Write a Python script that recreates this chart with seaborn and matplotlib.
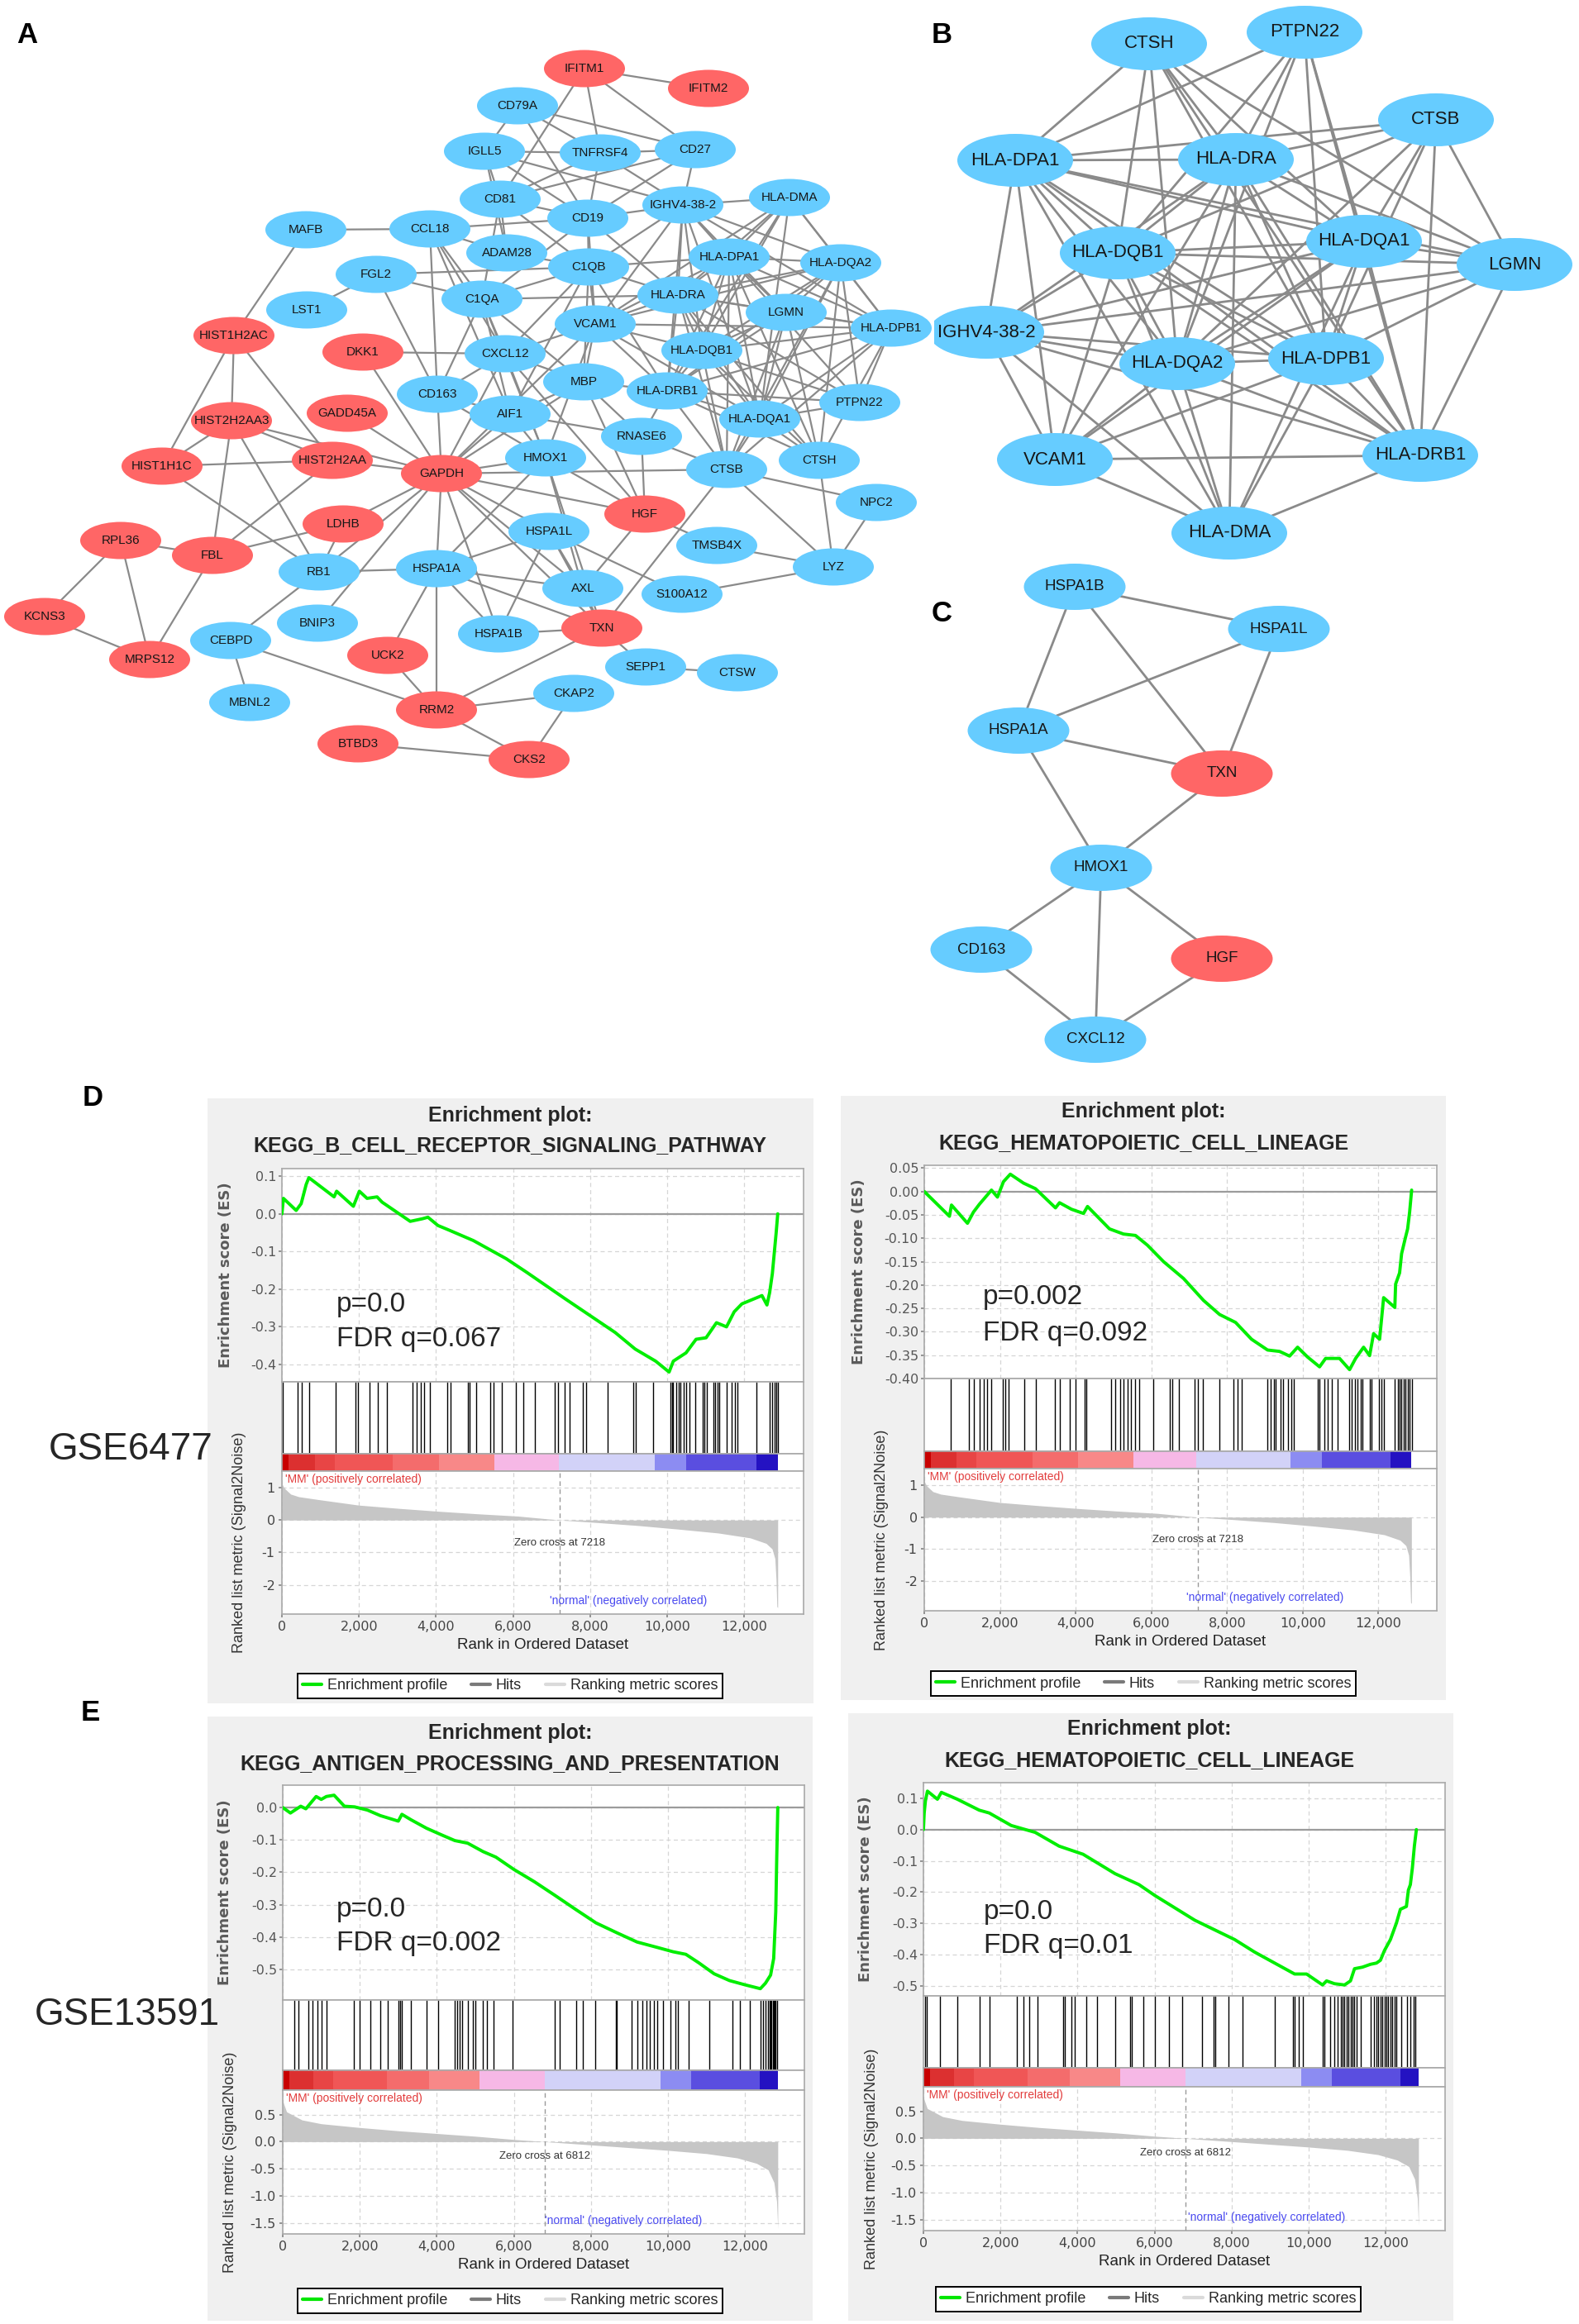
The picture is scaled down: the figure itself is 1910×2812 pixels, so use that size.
import numpy as np
import pandas as pd
import matplotlib
matplotlib.use("Agg")
import matplotlib.pyplot as plt
import seaborn as sns
from matplotlib.patches import Ellipse, Rectangle
from matplotlib.lines import Line2D
from matplotlib.collections import LineCollection
from matplotlib.ticker import FuncFormatter

# ============================ DATA ============================
RED_GENES = ["IFITM1", "IFITM2", "HIST1H2AC", "DKK1", "GADD45A", "HIST2H2AA3", "HIST2H2AA",
             "HIST1H1C", "GAPDH", "HGF", "LDHB", "RPL36", "FBL", "KCNS3", "TXN", "MRPS12",
             "UCK2", "RRM2", "BTBD3", "CKS2"]

# Panel A layout (network node positions)
A_genes = ["IFITM1", "IFITM2", "CD79A", "IGLL5", "TNFRSF4", "CD27", "CD81", "IGHV4-38-2", "HLA-DMA",
           "MAFB", "CCL18", "CD19", "ADAM28", "C1QB", "HLA-DPA1", "HLA-DQA2", "FGL2", "C1QA",
           "HLA-DRA", "LGMN", "LST1", "VCAM1", "HLA-DPB1", "HIST1H2AC", "CXCL12", "DKK1", "HLA-DQB1",
           "CD163", "MBP", "HLA-DRB1", "PTPN22", "GADD45A", "AIF1", "HLA-DQA1", "HIST2H2AA3", "RNASE6",
           "HIST2H2AA", "HIST1H1C", "GAPDH", "HMOX1", "CTSB", "CTSH", "NPC2", "HGF", "LDHB", "RPL36",
           "FBL", "HSPA1L", "TMSB4X", "RB1", "HSPA1A", "LYZ", "AXL", "S100A12", "KCNS3", "BNIP3",
           "TXN", "HSPA1B", "CEBPD", "MRPS12", "UCK2", "SEPP1", "CTSW", "MBNL2", "CKAP2", "RRM2",
           "BTBD3", "CKS2"]
A_x = [707, 857, 626, 586, 726, 841, 605, 826, 955,
       370, 520, 711, 613, 712, 882, 1017, 455, 583,
       820, 951, 371, 720, 1078, 283, 611, 439, 849,
       529, 706, 807, 1040, 420, 617, 919, 280, 776,
       402, 196, 534, 660, 879, 991, 1060, 780, 415, 146,
       257, 664, 867, 386, 528, 1008, 705, 825, 54, 384,
       728, 603, 279, 181, 469, 781, 892, 302, 694, 528,
       433, 640]
A_y = [83, 107, 128, 183, 185, 181, 241, 248, 239,
       278, 277, 264, 306, 323, 311, 318, 332, 362,
       357, 378, 375, 392, 397, 406, 428, 426, 424,
       477, 462, 473, 487, 500, 501, 507, 509, 528,
       557, 564, 573, 554, 568, 557, 608, 622, 634, 654,
       672, 643, 660, 692, 688, 686, 712, 719, 746, 754,
       760, 767, 775, 798, 793, 807, 814, 850, 839, 859,
       900, 919]

# Panel B layout
B_genes = ["CTSH", "PTPN22", "CTSB", "HLA-DPA1", "HLA-DRA", "HLA-DQA1", "LGMN", "HLA-DQB1",
           "IGHV4-38-2", "HLA-DQA2", "HLA-DPB1", "VCAM1", "HLA-DRB1", "HLA-DMA"]
B_x = [1390, 1578, 1737, 1228, 1495, 1650, 1832, 1352, 1193, 1424, 1604, 1276, 1718, 1487]
B_y = [53, 39, 145, 194, 193, 292, 320, 306, 402, 440, 434, 556, 551, 645]

# Panel C layout
C_genes = ["HSPA1B", "HSPA1L", "HSPA1A", "TXN", "HMOX1", "CD163", "HGF", "CXCL12"]
C_x = [1300, 1547, 1232, 1478, 1332, 1187, 1478, 1325]
C_y = [710, 761, 884, 936, 1050, 1149, 1160, 1258]

# Interaction edges (one network; B and C are its sub-networks)
B_EDGES = [
    ("CTSH", "HLA-DPA1"), ("CTSH", "HLA-DRA"), ("CTSH", "HLA-DQB1"), ("CTSH", "HLA-DQA2"),
    ("CTSH", "HLA-DQA1"), ("CTSH", "HLA-DPB1"), ("CTSH", "HLA-DRB1"), ("CTSH", "LGMN"),
    ("PTPN22", "HLA-DPA1"), ("PTPN22", "HLA-DRA"), ("PTPN22", "HLA-DQB1"), ("PTPN22", "HLA-DQA2"),
    ("PTPN22", "HLA-DQA1"), ("PTPN22", "HLA-DPB1"), ("PTPN22", "HLA-DRB1"),
    ("CTSB", "HLA-DPA1"), ("CTSB", "HLA-DRA"), ("CTSB", "HLA-DQB1"), ("CTSB", "HLA-DQA2"),
    ("CTSB", "HLA-DQA1"), ("CTSB", "HLA-DPB1"), ("CTSB", "HLA-DRB1"), ("CTSB", "LGMN"),
    ("HLA-DPA1", "HLA-DRA"), ("HLA-DPA1", "HLA-DQB1"), ("HLA-DPA1", "HLA-DQA1"), ("HLA-DPA1", "LGMN"),
    ("HLA-DPA1", "HLA-DPB1"), ("HLA-DPA1", "HLA-DQA2"), ("HLA-DPA1", "HLA-DRB1"), ("HLA-DPA1", "HLA-DMA"),
    ("HLA-DPA1", "IGHV4-38-2"), ("HLA-DPA1", "VCAM1"),
    ("HLA-DRA", "HLA-DQB1"), ("HLA-DRA", "HLA-DQA1"), ("HLA-DRA", "LGMN"), ("HLA-DRA", "HLA-DQA2"),
    ("HLA-DRA", "HLA-DPB1"), ("HLA-DRA", "HLA-DRB1"), ("HLA-DRA", "HLA-DMA"), ("HLA-DRA", "VCAM1"),
    ("HLA-DRA", "IGHV4-38-2"),
    ("HLA-DQB1", "HLA-DQA1"), ("HLA-DQB1", "LGMN"), ("HLA-DQB1", "IGHV4-38-2"), ("HLA-DQB1", "HLA-DQA2"),
    ("HLA-DQB1", "HLA-DPB1"), ("HLA-DQB1", "HLA-DRB1"), ("HLA-DQB1", "HLA-DMA"), ("HLA-DQB1", "VCAM1"),
    ("HLA-DQA1", "LGMN"), ("HLA-DQA1", "HLA-DQA2"), ("HLA-DQA1", "HLA-DPB1"), ("HLA-DQA1", "HLA-DRB1"),
    ("HLA-DQA1", "HLA-DMA"), ("HLA-DQA1", "VCAM1"), ("HLA-DQA1", "IGHV4-38-2"),
    ("LGMN", "HLA-DPB1"), ("LGMN", "HLA-DRB1"), ("LGMN", "HLA-DQA2"), ("LGMN", "IGHV4-38-2"),
    ("IGHV4-38-2", "HLA-DQA2"), ("IGHV4-38-2", "HLA-DPB1"), ("IGHV4-38-2", "HLA-DRB1"),
    ("IGHV4-38-2", "HLA-DMA"), ("IGHV4-38-2", "VCAM1"),
    ("HLA-DQA2", "HLA-DPB1"), ("HLA-DQA2", "HLA-DRB1"), ("HLA-DQA2", "HLA-DMA"), ("HLA-DQA2", "VCAM1"),
    ("HLA-DPB1", "HLA-DRB1"), ("HLA-DPB1", "HLA-DMA"), ("HLA-DPB1", "VCAM1"),
    ("VCAM1", "HLA-DRB1"), ("VCAM1", "HLA-DMA"), ("HLA-DRB1", "HLA-DMA"),
]
C_EDGES = [
    ("HSPA1B", "HSPA1L"), ("HSPA1B", "HSPA1A"), ("HSPA1B", "TXN"), ("HSPA1L", "HSPA1A"),
    ("HSPA1L", "TXN"), ("HSPA1A", "TXN"), ("HSPA1A", "HMOX1"), ("TXN", "HMOX1"),
    ("HMOX1", "CD163"), ("HMOX1", "CXCL12"), ("HMOX1", "HGF"), ("CD163", "CXCL12"), ("HGF", "CXCL12"),
]
OTHER_EDGES = [
    ("IFITM1", "IFITM2"), ("IFITM1", "TNFRSF4"), ("IFITM1", "CD27"), ("IFITM1", "CD81"),
    ("CD79A", "IGLL5"), ("CD79A", "TNFRSF4"), ("CD79A", "CD27"), ("CD79A", "CD19"),
    ("IGLL5", "TNFRSF4"), ("IGLL5", "CD81"), ("IGLL5", "CD19"), ("IGLL5", "IGHV4-38-2"), ("IGLL5", "ADAM28"),
    ("TNFRSF4", "CD27"), ("TNFRSF4", "CD19"), ("TNFRSF4", "IGHV4-38-2"), ("TNFRSF4", "CD81"),
    ("CD27", "IGHV4-38-2"), ("CD27", "CD19"), ("CD27", "CD81"),
    ("CD81", "CD19"), ("CD81", "ADAM28"), ("CD81", "C1QB"), ("CD81", "C1QA"),
    ("CD19", "IGHV4-38-2"), ("CD19", "C1QB"), ("CD19", "C1QA"), ("CD19", "HLA-DRA"), ("CD19", "CCL18"),
    ("CD19", "VCAM1"), ("IGHV4-38-2", "C1QB"),
    ("C1QB", "HLA-DPA1"), ("C1QB", "C1QA"), ("C1QB", "CXCL12"), ("C1QB", "MBP"), ("C1QB", "HLA-DRB1"),
    ("C1QB", "VCAM1"), ("C1QB", "ADAM28"), ("C1QB", "HLA-DRA"), ("C1QB", "AIF1"), ("C1QB", "FGL2"),
    ("C1QA", "HLA-DRA"), ("C1QA", "CXCL12"), ("C1QA", "CD163"), ("C1QA", "AIF1"), ("C1QA", "CCL18"),
    ("C1QA", "FGL2"), ("C1QA", "MBP"), ("C1QA", "HMOX1"),
    ("ADAM28", "CCL18"), ("CCL18", "CD163"), ("CCL18", "CXCL12"), ("CCL18", "AIF1"), ("CCL18", "MAFB"),
    ("MAFB", "HIST1H2AC"), ("FGL2", "LST1"), ("FGL2", "CD163"),
    ("DKK1", "CXCL12"), ("DKK1", "GAPDH"),
    ("CXCL12", "GAPDH"), ("CXCL12", "VCAM1"), ("CXCL12", "MBP"),
    ("CD163", "GAPDH"), ("CD163", "AIF1"),
    ("VCAM1", "GAPDH"), ("VCAM1", "MBP"), ("VCAM1", "HMOX1"),
    ("MBP", "HLA-DRB1"), ("MBP", "GAPDH"), ("MBP", "HGF"), ("MBP", "AIF1"), ("MBP", "RNASE6"),
    ("AIF1", "GAPDH"), ("AIF1", "RNASE6"), ("AIF1", "HMOX1"),
    ("HLA-DRB1", "RNASE6"), ("RNASE6", "CTSB"), ("RNASE6", "HGF"),
    ("HMOX1", "GAPDH"), ("HMOX1", "AXL"),
    ("GAPDH", "HIST2H2AA"), ("GAPDH", "HIST2H2AA3"), ("GAPDH", "GADD45A"), ("GAPDH", "LDHB"),
    ("GAPDH", "RB1"), ("GAPDH", "BNIP3"), ("GAPDH", "HSPA1A"), ("GAPDH", "HSPA1B"), ("GAPDH", "HSPA1L"),
    ("GAPDH", "AXL"), ("GAPDH", "TXN"), ("GAPDH", "HGF"), ("GAPDH", "CTSB"),
    ("LDHB", "FBL"), ("LDHB", "RB1"),
    ("RB1", "HIST1H1C"), ("RB1", "HIST2H2AA3"), ("RB1", "CEBPD"), ("RB1", "HSPA1A"),
    ("HIST1H2AC", "HIST1H1C"), ("HIST1H2AC", "HIST2H2AA3"), ("HIST1H2AC", "HIST2H2AA"),
    ("HIST2H2AA3", "HIST1H1C"), ("HIST2H2AA3", "FBL"), ("HIST2H2AA3", "HIST2H2AA"),
    ("HIST1H1C", "HIST2H2AA"), ("HIST2H2AA", "FBL"),
    ("RPL36", "FBL"), ("RPL36", "KCNS3"), ("RPL36", "MRPS12"), ("KCNS3", "MRPS12"), ("FBL", "MRPS12"),
    ("CEBPD", "MBNL2"), ("CEBPD", "RRM2"), ("UCK2", "RRM2"), ("UCK2", "HSPA1A"),
    ("HSPA1A", "RRM2"), ("HSPA1A", "AXL"), ("HSPA1L", "AXL"), ("HSPA1L", "S100A12"),
    ("AXL", "TXN"), ("AXL", "HGF"), ("TXN", "CTSB"), ("TXN", "SEPP1"), ("TXN", "RRM2"),
    ("SEPP1", "CTSW"), ("RRM2", "CKAP2"), ("RRM2", "CKS2"), ("CKAP2", "CKS2"), ("BTBD3", "CKS2"),
    ("CTSB", "LYZ"), ("CTSB", "NPC2"), ("CTSH", "LYZ"), ("NPC2", "LYZ"), ("TMSB4X", "LYZ"),
    ("S100A12", "LYZ"), ("HGF", "TMSB4X"),
]

# ---- GSEA data ----
D_titles = ["KEGG_B_CELL_RECEPTOR_SIGNALING_PATHWAY", "KEGG_HEMATOPOIETIC_CELL_LINEAGE"]
E_titles = ["KEGG_ANTIGEN_PROCESSING_AND_PRESENTATION", "KEGG_HEMATOPOIETIC_CELL_LINEAGE"]
D_pvals = [("p=0.0", "FDR q=0.067"), ("p=0.002", "FDR q=0.092")]
E_pvals = [("p=0.0", "FDR q=0.002"), ("p=0.0", "FDR q=0.01")]
D_dataset = "GSE6477"
E_dataset = "GSE13591"
D_zero_cross = 7218
E_zero_cross = 6812

D1_rank = [0, 40, 370, 500, 630, 700, 1355, 1420, 1855, 2010, 2210, 2470, 2600, 3330, 3650, 3790, 4050,
           4310, 4970, 5820, 6350, 7330, 8650, 9170, 9700, 10050, 10160, 10490, 10750, 11010, 11280,
           11540, 11740, 11940, 12200, 12460, 12590, 12660, 12730, 12790, 12830, 12870]
D1_es = [0.0, 0.041, 0.009, 0.027, 0.078, 0.096, 0.045, 0.060, 0.020, 0.060, 0.041, 0.045, 0.031, -0.020,
         -0.013, -0.009, -0.031, -0.042, -0.071, -0.119, -0.155, -0.224, -0.315, -0.359, -0.391, -0.420,
         -0.391, -0.369, -0.333, -0.329, -0.289, -0.300, -0.260, -0.239, -0.228, -0.217, -0.242, -0.209,
         -0.159, -0.093, -0.049, 0.0]
D1_hits = [20, 400, 510, 700, 1400, 1910, 1975, 2280, 2480, 2720, 3380, 3500, 3600, 3690, 3850, 4290, 4380,
           4820, 4880, 5040, 5400, 5500, 5710, 6080, 6270, 6560, 7080, 7170, 7340, 7460, 7800, 7890, 8460,
           9120, 9190, 9640, 10080, 10130, 10160, 10230, 10300, 10350, 10420, 10500, 10570, 10730, 10920,
           10970, 11020, 11200, 11250, 11300, 11360, 11540, 11670, 11750, 11820, 12320, 12650, 12730,
           12780, 12830, 12870]

D2_rank = [0, 666, 719, 1142, 1300, 1459, 1776, 1934, 2093, 2273, 2621, 2938, 3467, 3573, 3890, 4207, 4313,
           4894, 5264, 5581, 5898, 6321, 6849, 7378, 7801, 8224, 8646, 9069, 9386, 9651, 9862, 10126,
           10443, 10602, 10971, 11236, 11395, 11606, 11765, 11870, 12029, 12135, 12431, 12452, 12557,
           12610, 12716, 12769, 12822, 12875]
D2_es = [0.0, -0.053, -0.029, -0.068, -0.044, -0.027, 0.003, -0.012, 0.021, 0.037, 0.018, 0.006, -0.035,
         -0.024, -0.038, -0.047, -0.032, -0.080, -0.091, -0.094, -0.115, -0.150, -0.186, -0.233, -0.263,
         -0.280, -0.316, -0.339, -0.342, -0.352, -0.333, -0.354, -0.375, -0.357, -0.357, -0.381, -0.357,
         -0.333, -0.351, -0.304, -0.316, -0.227, -0.248, -0.198, -0.174, -0.133, -0.097, -0.080, -0.044,
         0.003]
D2_hits = [698, 1173, 1300, 1459, 1564, 1670, 1776, 2072, 2146, 2220, 2643, 2938, 3446, 3573, 3837, 3995,
           4228, 4291, 4926, 5052, 5179, 5264, 5370, 5454, 5560, 5687, 6057, 6479, 6553, 6723, 7145, 7219,
           7357, 7801, 8171, 8276, 8382, 9069, 9154, 9228, 9280, 9407, 9471, 9619, 9703, 9756, 10390,
           10443, 10570, 10655, 10760, 10919, 11236, 11289, 11374, 11447, 11521, 11585, 11765, 11817,
           12008, 12082, 12135, 12431, 12504, 12557, 12610, 12665, 12716, 12769, 12822, 12875]

E1_rank = [0, 200, 467, 600, 867, 1000, 1133, 1333, 1600, 1866, 2200, 2533, 3000, 3093, 3333, 3733, 4133,
           4466, 4800, 5200, 5532, 5999, 6532, 7065, 7598, 8131, 8664, 9197, 9731, 10130, 10464, 10797,
           11197, 11597, 11997, 12264, 12397, 12530, 12663, 12743, 12797, 12823, 12850]
E1_es = [0.0, -0.017, 0.004, -0.004, 0.034, 0.025, 0.034, 0.038, 0.004, 0.002, -0.008, -0.025, -0.042,
         -0.021, -0.038, -0.064, -0.085, -0.102, -0.110, -0.136, -0.153, -0.191, -0.229, -0.271, -0.314,
         -0.356, -0.386, -0.415, -0.432, -0.445, -0.453, -0.479, -0.513, -0.534, -0.547, -0.555, -0.559,
         -0.542, -0.517, -0.466, -0.322, -0.153, 0.0]
E1_hits = [307, 400, 667, 773, 893, 1000, 1133, 1840, 2000, 2266, 2533, 2733, 3000, 3040, 3093, 3333, 3732,
           4026, 4466, 4532, 4599, 4666, 4799, 4932, 4999, 5199, 5305, 5465, 5972, 7065, 7198, 7625, 7798,
           8105, 8638, 8665, 9064, 9198, 9331, 9438, 9531, 9624, 9731, 9864, 10064, 10197, 10264, 10531,
           11064, 11664, 11864, 12130, 12397, 12464, 12530, 12597, 12637, 12664, 12690, 12717, 12744,
           12770, 12797, 12824]

E2_rank = [0, 20, 52, 104, 363, 466, 881, 1450, 1709, 2279, 2901, 3522, 4144, 4973, 5594, 6009, 7045, 8081,
           8599, 9117, 9635, 9946, 10360, 10464, 10671, 10930, 11085, 11189, 11396, 11603, 11759, 11862,
           11966, 12121, 12277, 12380, 12536, 12587, 12639, 12691, 12743, 12795]
E2_es = [0.0, 0.053, 0.092, 0.123, 0.097, 0.119, 0.097, 0.062, 0.053, 0.013, -0.009, -0.053, -0.079,
         -0.141, -0.176, -0.211, -0.290, -0.352, -0.392, -0.427, -0.462, -0.462, -0.497, -0.484, -0.493,
         -0.497, -0.484, -0.445, -0.440, -0.431, -0.427, -0.418, -0.387, -0.352, -0.299, -0.255, -0.246,
         -0.194, -0.176, -0.123, -0.053, 0.0]
E2_hits = [52, 83, 435, 881, 1450, 1709, 2435, 2590, 2745, 2953, 3626, 3678, 3833, 3937, 4227, 4507, 4973,
           5366, 5408, 5698, 6009, 6371, 6713, 7231, 7542, 7584, 7925, 8288, 9117, 9583, 9635, 9738, 9842,
           10360, 10412, 10567, 10671, 10754, 10826, 10878, 10930, 10982, 11034, 11085, 11137, 11189,
           11241, 11344, 11603, 11686, 11759, 11810, 11862, 11914, 11966, 12018, 12070, 12121, 12173,
           12225, 12277, 12411, 12556, 12639, 12722, 12763]

D_met_rank = [0, 30, 73, 228, 436, 954, 1991, 3028, 4065, 5102, 6139, 7218, 8213, 9250, 10287, 11324,
              12154, 12569, 12724, 12797, 12828, 12849, 12870]
D_met_val = [1.14, 1.05, 0.97, 0.80, 0.72, 0.63, 0.46, 0.36, 0.27, 0.19, 0.12, 0.0, -0.08, -0.17, -0.28,
             -0.40, -0.55, -0.72, -0.89, -1.19, -1.86, -2.67, -2.70]
E_met_rank = [0, 100, 500, 1000, 2000, 3000, 4000, 5000, 6000, 6812, 8000, 9000, 10000, 11000, 11800,
              12300, 12600, 12750, 12820, 12850]
E_met_val = [0.75, 0.55, 0.40, 0.33, 0.26, 0.20, 0.15, 0.10, 0.04, 0.0, -0.06, -0.11, -0.16, -0.22, -0.30,
             -0.40, -0.52, -0.75, -1.10, -1.60]

D_band_edges = [0, 180, 850, 1370, 2870, 4070, 5520, 7180, 9670, 10500, 12310, 12870]
E_band_edges = [0, 180, 800, 1300, 2700, 3800, 5100, 6812, 9800, 10600, 12380, 12850]
BAND_COLORS = ["#c80000", "#dc3030", "#e84545", "#f05656", "#f46c6c", "#f88888", "#f6b8e6",
               "#d2d2f8", "#8c8cf2", "#5a4ee0", "#2412c2"]

D1_es_ticks = [0.1, 0.0, -0.1, -0.2, -0.3, -0.4]
D2_es_ticks = [0.05, 0.0, -0.05, -0.10, -0.15, -0.20, -0.25, -0.30, -0.35, -0.40]
E1_es_ticks = [0.0, -0.1, -0.2, -0.3, -0.4, -0.5]
E2_es_ticks = [0.1, 0.0, -0.1, -0.2, -0.3, -0.4, -0.5]
D_met_ticks = [1, 0, -1, -2]
E_met_ticks = [0.5, 0.0, -0.5, -1.0, -1.5]

# ============================ STYLE / FIGURE ============================
sns.set_theme(style="white")
plt.rcParams["font.family"] = ["Liberation Sans", "DejaVu Sans"]

W, H = 1910, 2812
fig = plt.figure(figsize=(W / 100, H / 100), dpi=100)
fig.patch.set_facecolor("white")
BLUE = "#66ccff"
RED = "#ff6666"
EDGE_COL = "#8a8a8a"
SPINE = "#a9a9a9"
XMAX = 13540


def px_axes(x0, y0, x1, y1):
    return fig.add_axes([x0 / W, 1 - y1 / H, (x1 - x0) / W, (y1 - y0) / H])


bg = fig.add_axes([0, 0, 1, 1])
bg.set_xlim(0, W)
bg.set_ylim(H, 0)
bg.axis("off")

# ---------------- networks ----------------
all_edges = []
seen = set()
for a, b in B_EDGES + C_EDGES + OTHER_EDGES:
    k = frozenset((a, b))
    if k not in seen:
        seen.add(k)
        all_edges.append((a, b))


def net_axes(x0, y0, x1, y1):
    ax = px_axes(x0, y0, x1, y1)
    ax.set_xlim(x0, x1)
    ax.set_ylim(y1, y0)
    ax.axis("off")
    ax.patch.set_alpha(0)
    return ax


def draw_network(ax, genes, xs, ys, w, h, fs, lw):
    pos = dict(zip(genes, zip(xs, ys)))
    segs = [[pos[a], pos[b]] for a, b in all_edges if a in pos and b in pos]
    ax.add_collection(LineCollection(segs, colors=EDGE_COL, linewidths=lw, zorder=1))
    for g in genes:
        ax.add_patch(Ellipse(pos[g], w, h, facecolor=RED if g in RED_GENES else BLUE,
                             edgecolor="none", zorder=2))
        ax.text(pos[g][0], pos[g][1], g, ha="center", va="center", fontsize=fs,
                color="#161616", zorder=3, clip_on=False)


axA = net_axes(0, 0, 1128, 1000)
draw_network(axA, A_genes, A_x, A_y, 98, 45, 11, 1.6)
axB = net_axes(1130, 0, 1910, 682)
draw_network(axB, B_genes, B_x, B_y, 140, 64, 16, 2.0)
axC = net_axes(1100, 682, 1910, 1300)
draw_network(axC, C_genes, C_x, C_y, 123, 56, 13.5, 2.0)

for lbl, (x, y) in zip("ABCDE", [(33, 42), (1139, 43), (1139, 742), (112, 1328), (109, 2072)]):
    bg.text(x, y, lbl, ha="center", va="center", fontsize=25, fontweight="bold", color="black")

bg.text(158, 1754, D_dataset, ha="center", va="center", fontsize=33)
bg.text(154, 2438, E_dataset, ha="center", va="center", fontsize=33)

# ---------------- GSEA panels ----------------
comma = FuncFormatter(lambda v, p: f"{int(v):,}")


def style_spines(ax):
    for sp in ax.spines.values():
        sp.set_color(SPINE)
        sp.set_linewidth(1.2)


def fmt_ticks(ticks, dec):
    return [f"{t:.{dec}f}" for t in ticks]


def gsea_panel(L, title, ptxt, rank, es, es_ylim, es_ticks, es_dec, hits, met_rank, met_val,
               met_ylim, met_ticks, met_dec, zero, band_edges, normal_x):
    x0, y0, x1, y1 = L["box"]
    bg.add_patch(Rectangle((x0, y0), x1 - x0, y1 - y0, facecolor="#f0f0f0", edgecolor="none", zorder=0))
    bg.text(L["tx"], L["ty"][0], "Enrichment plot:", ha="center", va="center", fontsize=18,
            fontweight="bold")
    bg.text(L["tx"], L["ty"][1], title, ha="center", va="center", fontsize=18, fontweight="bold")

    # enrichment score
    ax = px_axes(*L["es"])
    ax.set_facecolor("white")
    ax.axhline(0, color="#9c9c9c", lw=1.6, zorder=1)
    sns.lineplot(x=rank, y=es, ax=ax, color="#00ee00", lw=2.8, estimator=None, sort=False, zorder=3)
    ax.set_xlim(0, XMAX)
    ax.set_ylim(*es_ylim)
    ax.set_xticks(list(range(0, 13000, 2000)))
    ax.set_yticks(es_ticks)
    ax.set_yticklabels(fmt_ticks(es_ticks, es_dec), fontfamily="DejaVu Sans")
    ax.tick_params(axis="x", bottom=False, labelbottom=False)
    ax.tick_params(axis="y", left=True, length=3, color="#888888", labelsize=11.5, labelcolor="#555555",
                   pad=2)
    ax.grid(True, ls=(0, (4, 3)), color="#d6d6d6", lw=0.9)
    ax.set_xlabel("")
    ax.set_ylabel("Enrichment score (ES)", fontfamily="DejaVu Sans", fontweight="bold",
                  fontsize=13, color="#5a5a5a")
    ax.yaxis.set_label_coords(L["el"], 0.5)
    style_spines(ax)
    ax.text(L["pp"][0], L["pp"][1], ptxt[0], transform=ax.transAxes, fontsize=24, va="center", ha="left")
    ax.text(L["pp"][0], L["pp"][2], ptxt[1], transform=ax.transAxes, fontsize=24, va="center", ha="left")

    # hits
    hx = px_axes(*L["hits"])
    hx.set_facecolor("white")
    hx.vlines(hits, 0, 1, color="black", lw=1.0)
    hx.set_xlim(0, XMAX)
    hx.set_ylim(0, 1)
    hx.set_xticks([])
    hx.set_yticks([])
    style_spines(hx)

    # colour bar of ranked list
    cx = px_axes(*L["cb"])
    cx.set_facecolor("white")
    for a, b, c in zip(band_edges[:-1], band_edges[1:], BAND_COLORS):
        cx.axvspan(a, b, color=c, lw=0)
    cx.set_xlim(0, XMAX)
    cx.set_xticks([])
    cx.set_yticks([])
    style_spines(cx)

    # ranked list metric
    mx = px_axes(*L["met"])
    mx.set_facecolor("white")
    mx.fill_between(met_rank, met_val, 0, color="#c6c6c6", lw=0, zorder=2)
    mx.axvline(zero, color="#9a9a9a", ls=(0, (4, 3)), lw=1.0, zorder=3)
    mx.set_xlim(0, XMAX)
    mx.set_ylim(*met_ylim)
    mx.set_xticks(list(range(0, 13000, 2000)))
    mx.xaxis.set_major_formatter(comma)
    mx.set_yticks(met_ticks)
    mx.set_yticklabels(fmt_ticks(met_ticks, met_dec), fontfamily="DejaVu Sans")
    for t in mx.get_xticklabels():
        t.set_fontfamily("DejaVu Sans")
    mx.tick_params(axis="both", length=3, color="#888888", labelsize=11.5, labelcolor="#444444",
                   left=True, bottom=True, pad=3)
    mx.grid(True, ls=(0, (4, 3)), color="#d6d6d6", lw=0.9)
    mx.set_xlabel("Rank in Ordered Dataset", fontsize=13.5, color="#222222", labelpad=4)
    mx.set_ylabel("Ranked list metric (Signal2Noise)", fontsize=13, color="#333333")
    mx.yaxis.set_label_coords(L["ml"], 0.5)
    style_spines(mx)
    mx.text(0.006, 0.985, "'MM' (positively correlated)", transform=mx.transAxes, color="#e23c3c",
            fontsize=10, va="top", ha="left")
    mx.text(normal_x, 0.05, "'normal' (negatively correlated)", transform=mx.get_xaxis_transform(),
            color="#4b4bf0", fontsize=10, va="bottom", ha="center")
    mx.text(zero, L["zy"], f"Zero cross at {zero}", transform=mx.get_xaxis_transform(),
            color="#333333", fontsize=9.5, va="center", ha="center")

    # legend
    handles = [Line2D([], [], color="#00e600", lw=3), Line2D([], [], color="#7a7a7a", lw=3),
               Line2D([], [], color="#dadada", lw=3)]
    leg = fig.legend(handles, ["Enrichment profile", "Hits", "Ranking metric scores"], loc="center",
                     bbox_to_anchor=(L["leg"][0] / W, 1 - L["leg"][1] / H), ncol=3, frameon=True,
                     fancybox=False, edgecolor="black", fontsize=13, handlelength=1.3,
                     handletextpad=0.35, columnspacing=1.6, borderpad=0.35, framealpha=1)
    leg.get_frame().set_linewidth(1.4)


L_D1 = dict(box=(251, 1329, 984, 2061), tx=617, ty=(1350, 1386), es=(341, 1414, 972, 1672),
            hits=(341, 1672, 972, 1759), cb=(341, 1759, 972, 1780), met=(341, 1780, 972, 1953),
            leg=(617, 2040), el=-0.094, ml=-0.068, pp=(0.105, 0.364, 0.20), zy=0.5)
L_D2 = dict(box=(1017, 1326, 1749, 2057), tx=1383, ty=(1345, 1383), es=(1118, 1410, 1738, 1668),
            hits=(1118, 1668, 1738, 1756), cb=(1118, 1756, 1738, 1777), met=(1118, 1777, 1738, 1949),
            leg=(1383, 2037), el=-0.113, ml=-0.069, pp=(0.115, 0.38, 0.213), zy=0.5)
L_E1 = dict(box=(251, 2077, 983, 2808), tx=617, ty=(2097, 2134), es=(342, 2160, 973, 2420),
            hits=(342, 2420, 973, 2505), cb=(342, 2505, 973, 2529), met=(342, 2529, 973, 2703),
            leg=(617, 2784), el=-0.097, ml=-0.087, pp=(0.103, 0.423, 0.262), zy=0.54)
L_E2 = dict(box=(1026, 2073, 1758, 2808), tx=1390, ty=(2092, 2130), es=(1117, 2157, 1748, 2415),
            hits=(1117, 2415, 1748, 2502), cb=(1117, 2502, 1748, 2525), met=(1117, 2525, 1748, 2699),
            leg=(1389, 2782), el=-0.097, ml=-0.086, pp=(0.116, 0.395, 0.233), zy=0.54)

gsea_panel(L_D1, D_titles[0], D_pvals[0], D1_rank, D1_es, (-0.446, 0.12), D1_es_ticks, 1, D1_hits,
           D_met_rank, D_met_val, (-2.9, 1.51), D_met_ticks, 0, D_zero_cross, D_band_edges, 8990)
gsea_panel(L_D2, D_titles[1], D_pvals[1], D2_rank, D2_es, (-0.40, 0.056), D2_es_ticks, 2, D2_hits,
           D_met_rank, D_met_val, (-2.93, 1.52), D_met_ticks, 0, D_zero_cross, D_band_edges, 8990)
gsea_panel(L_E1, E_titles[0], E_pvals[0], E1_rank, E1_es, (-0.594, 0.069), E1_es_ticks, 1, E1_hits,
           E_met_rank, E_met_val, (-1.7, 0.95), E_met_ticks, 1, E_zero_cross, E_band_edges, 8850)
gsea_panel(L_E2, E_titles[1], E_pvals[1], E2_rank, E2_es, (-0.532, 0.15), E2_es_ticks, 1, E2_hits,
           E_met_rank, E_met_val, (-1.7, 0.95), E_met_ticks, 1, E_zero_cross, E_band_edges, 8900)

fig.savefig("out.png", dpi=100)
